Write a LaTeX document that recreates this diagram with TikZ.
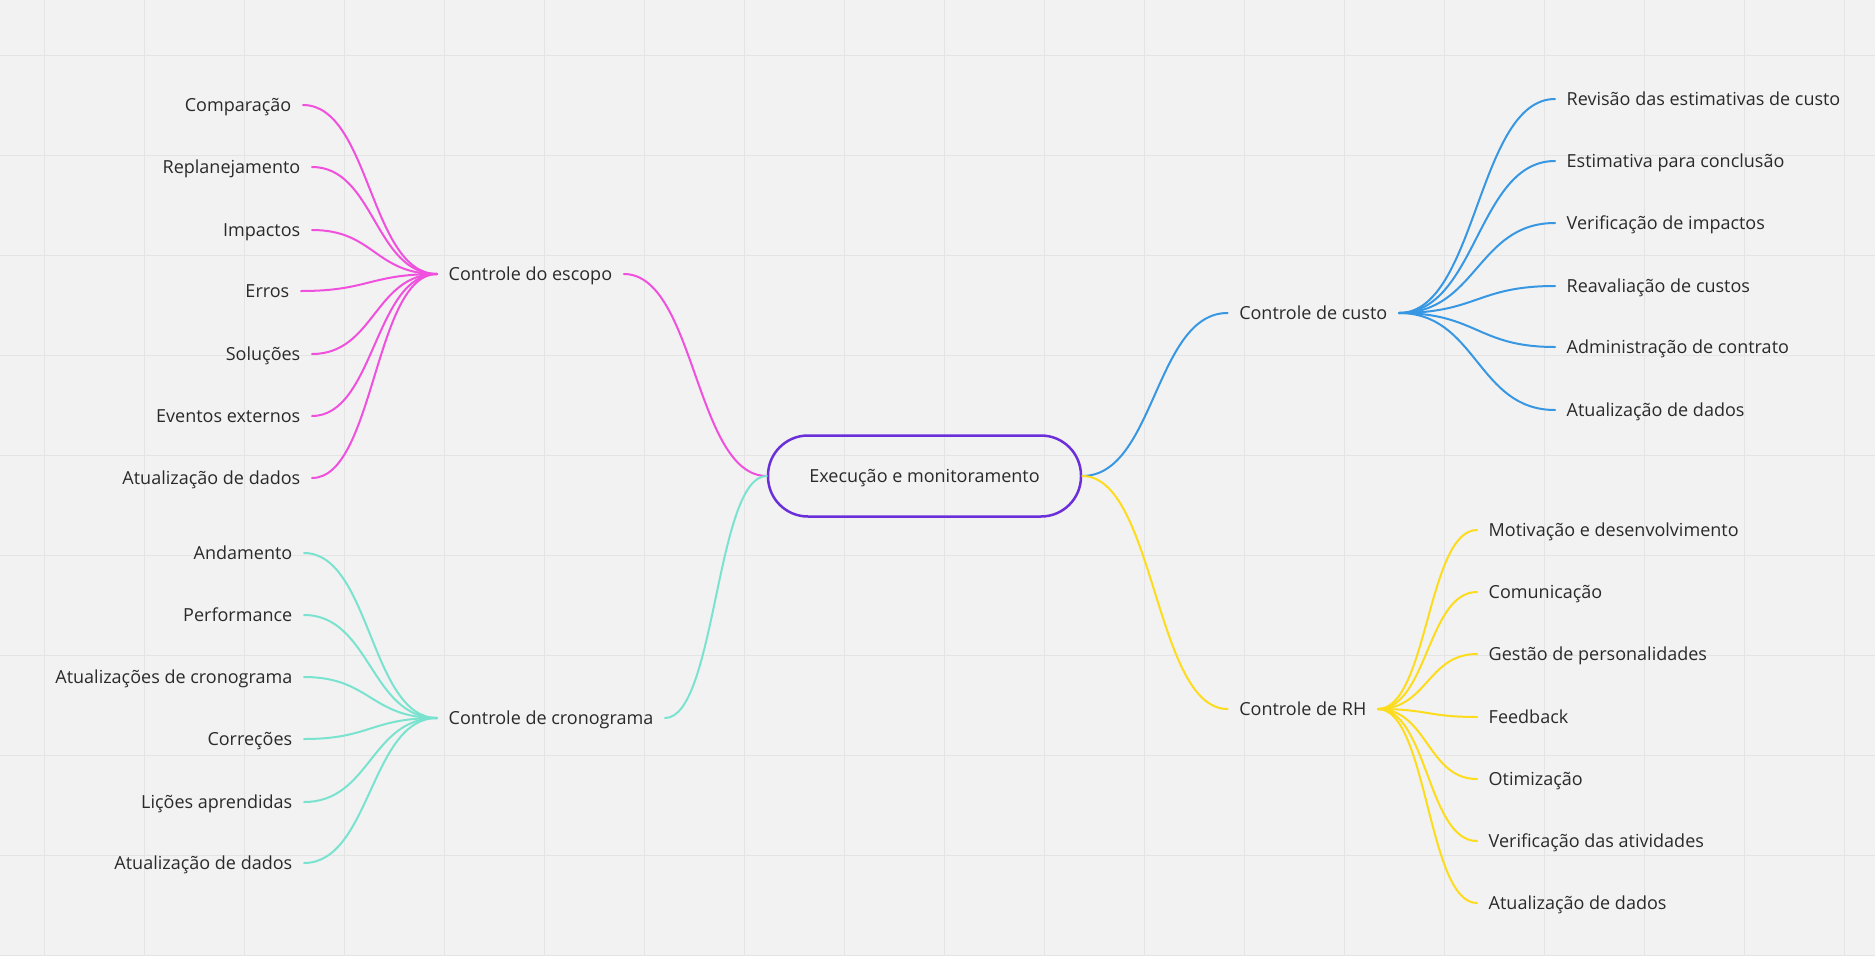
\documentclass[tikz,border=0pt]{standalone}
\usepackage{fontspec}
\setmainfont{Open Sans}
\usetikzlibrary{calc,positioning}
\definecolor{fundo}{HTML}{F2F2F2}
\definecolor{grade}{HTML}{E4E4E4}
\definecolor{texto}{HTML}{2A2A2A}
\definecolor{roxo}{HTML}{6B2FDA}
\definecolor{rosa}{HTML}{F050DE}
\definecolor{verde}{HTML}{7AE3CF}
\definecolor{azul}{HTML}{3897E2}
\definecolor{amarelo}{HTML}{FCDC1C}

\begin{document}
\begin{tikzpicture}
   [x=1pt,y=-1pt,
   every node/.style={font=\fontsize{18}{22}\selectfont,text=texto,inner sep=0pt,
   	text height=13pt,text depth=0pt},
   folha/.style={inner xsep=11.5pt,inner ysep=4pt},
   centro/.style={draw=roxo,line width=2.5pt,rounded corners=40pt,
   	minimum width=313pt,minimum height=81pt},
   ramo/.style={line width=2pt,line cap=round,
   	to path={.. controls ($(\tikztostart)!0.5!(\tikztostart -| \tikztotarget)$)
   		and ($(\tikztotarget)!0.5!(\tikztotarget -| \tikztostart)$) .. (\tikztotarget)}}]
   \useasboundingbox (0,0) rectangle (1875,956);
   \fill[fundo] (0,0) rectangle (1875,956);
   \foreach \gx in {44,144,...,1844}
   	\draw[grade,line width=1pt] (\gx,0) -- (\gx,956);
   \foreach \gy in {55,155,...,955}
   	\draw[grade,line width=1pt] (0,\gy) -- (1875,\gy);
   
   \node[centro] (main) at (924.5,476) {Execução e monitoramento};
   \node[folha,anchor=west] (escopo) at (437,274) {Controle do escopo};
   \node[folha,anchor=west] (crono) at (437,718) {Controle de cronograma};
   \node[folha,anchor=east] (custo) at (1399,313) {Controle de custo};
   \node[folha,anchor=east] (rh) at (1378,709) {Controle de RH};
   
   % escopo
   \foreach \px/\py/\txt [count=\i] in {303/105/Comparação,312/167/Replanejamento,
   	312/230/Impactos,301/291/Erros,312/354/Soluções,312/416/Eventos externos,
   	312/478/Atualização de dados}
   {
   	\node[folha,anchor=east] (e\i) at (\px,\py) {\txt};
   	\path (e\i.east) edge[ramo,rosa] (escopo.west);
   }
   % cronograma
   \foreach \py/\txt [count=\i] in {553/Andamento,615/Performance,
   	677/Atualizações de cronograma,739/Correções,802/Lições aprendidas,
   	863/Atualização de dados}
   {
   	\node[folha,anchor=east] (c\i) at (304,\py) {\txt};
   	\path (c\i.east) edge[ramo,verde] (crono.west);
   }
   % custo
   \foreach \py/\txt [count=\i] in {99/Revisão das estimativas de custo,
   	161/Estimativa para conclusão,223/Verificação de impactos,
   	286/Reavaliação de custos,347/Administração de contrato,410/Atualização de dados}
   {
   	\node[folha,anchor=west] (k\i) at (1555,\py) {\txt};
   	\path (custo.east) edge[ramo,azul] (k\i.west);
   }
   % RH
   \foreach \py/\txt [count=\i] in {530/Motivação e desenvolvimento,592/Comunicação,
   	654/Gestão de personalidades,717/Feedback,779/Otimização,
   	841/Verificação das atividades,903/Atualização de dados}
   {
   	\node[folha,anchor=west] (r\i) at (1477,\py) {\txt};
   	\path (rh.east) edge[ramo,amarelo] (r\i.west);
   }
   
   \path
   \foreach \deA/\paraB/\cor in {main.west/escopo.east/rosa,main.west/crono.east/verde,
   	main.east/custo.west/azul,main.east/rh.west/amarelo}
   {
   	(\deA) edge[ramo,\cor] (\paraB)
   };
   \end{tikzpicture}
\end{document}
